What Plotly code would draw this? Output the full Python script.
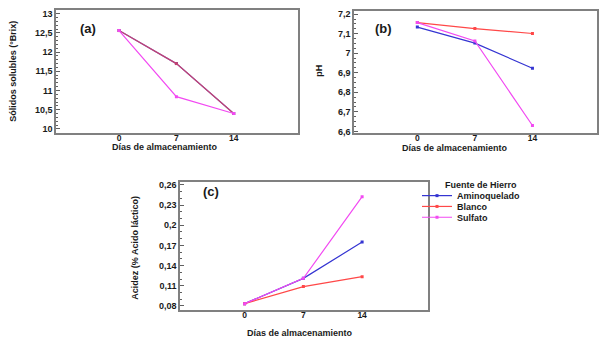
import plotly.graph_objects as go

dias = [0, 7, 14]
tick_vals = [0, 7, 14]
tick_text = ["0", "7", "14"]

series = ["Aminoquelado", "Blanco", "Sulfato"]
colors = {"Aminoquelado": "#3535d2", "Blanco": "#ff4848", "Sulfato": "#f24af2"}

solidos_amino = [12.56, 11.70, 10.40]
solidos_blanco = [12.56, 11.70, 10.40]
solidos_sulfato = [12.56, 10.84, 10.40]

ph_amino = [7.134, 7.052, 6.923]
ph_blanco = [7.157, 7.126, 7.101]
ph_sulfato = [7.157, 7.063, 6.630]

acidez_amino = [0.0834, 0.121, 0.175]
acidez_blanco = [0.0834, 0.1088, 0.1235]
acidez_sulfato = [0.0834, 0.121, 0.2425]

solidos_ticks = [10, 10.5, 11, 11.5, 12, 12.5, 13]
solidos_labels = ["10", "10,5", "11", "11,5", "12", "12,5", "13"]
ph_ticks = [6.6, 6.7, 6.8, 6.9, 7.0, 7.1, 7.2]
ph_labels = ["6,6", "6,7", "6,8", "6,9", "7", "7,1", "7,2"]
acidez_ticks = [0.08, 0.11, 0.14, 0.17, 0.2, 0.23, 0.26]
acidez_labels = ["0,08", "0,11", "0,14", "0,17", "0,2", "0,23", "0,26"]

W, H = 614, 350
FONT = "Liberation Sans, Arial, sans-serif"
TXT = "#1a1a1a"

def px_x(a, b):
    return [a / W, b / W]

def px_y(top, bottom):
    return [1 - bottom / H, 1 - top / H]

def bold(labels):
    return ["<b>" + t + "</b>" for t in labels]

fig = go.Figure()

panels = [
    ("x", "y", {"Aminoquelado": solidos_amino, "Blanco": solidos_blanco, "Sulfato": solidos_sulfato}),
    ("x2", "y2", {"Aminoquelado": ph_amino, "Blanco": ph_blanco, "Sulfato": ph_sulfato}),
    ("x3", "y3", {"Aminoquelado": acidez_amino, "Blanco": acidez_blanco, "Sulfato": acidez_sulfato}),
]
legend_ids = {"Aminoquelado": "legend", "Blanco": "legend2", "Sulfato": "legend3"}

for i, (xa, ya, data) in enumerate(panels):
    for s in series:
        op = 1.0
        if i == 0 and s == "Blanco":
            op = 0.7
        fig.add_trace(go.Scatter(
            x=dias, y=data[s], mode="lines+markers",
            line=dict(color=colors[s], width=1.2),
            marker=dict(color=colors[s], size=3, symbol="square"),
            opacity=op,
            name="<b>" + s + "</b>", legendgroup=s, showlegend=(i == 2),
            legend=legend_ids[s],
            xaxis=xa, yaxis=ya,
        ))

xrange_ = [-7.7, 21.85]
axis_line = dict(showline=True, linecolor="#808080", linewidth=1.5, mirror=True,
                 showgrid=False, zeroline=False)

def xaxis(domain, anchor):
    return dict(domain=domain, anchor=anchor, range=xrange_, tickmode="array",
                tickvals=tick_vals, ticktext=bold(tick_text), ticks="",
                ticklabelstandoff=-4,
                tickfont=dict(family=FONT, size=8.5, color=TXT), **axis_line)

def yaxis(domain, anchor, rng, tv, tt, minor_dtick):
    return dict(domain=domain, anchor=anchor, range=rng, tickmode="array",
                tickvals=tv, ticktext=bold(tt), ticks="inside", ticklen=4, tickwidth=1,
                tickcolor="#606060",
                minor=dict(ticks="inside", ticklen=2, dtick=minor_dtick, tickcolor="#606060", showgrid=False),
                tickfont=dict(family=FONT, size=9, color=TXT), **axis_line)

def leg(yc):
    return dict(x=417 / W, y=1 - yc / H, xanchor="left", yanchor="middle",
                font=dict(family=FONT, size=9, color=TXT),
                bgcolor="rgba(0,0,0,0)", borderwidth=0, itemwidth=30)

layout = dict(
    width=W, height=H,
    margin=dict(l=0, r=0, t=0, b=0),
    paper_bgcolor="white", plot_bgcolor="white",
    font=dict(family=FONT, color=TXT),
    xaxis=xaxis(px_x(56, 298), "y"),
    yaxis=yaxis(px_y(8, 133), "x", [9.9, 13.1], solidos_ticks, solidos_labels, 0.1),
    xaxis2=xaxis(px_x(354, 597), "y2"),
    yaxis2=yaxis(px_y(9, 133), "x2", [6.593, 7.217], ph_ticks, ph_labels, 0.025),
    xaxis3=xaxis(px_x(180, 428), "y3"),
    yaxis3=yaxis(px_y(183, 313), "x3", [0.0745, 0.2645], acidez_ticks, acidez_labels, 0.01),
    showlegend=True,
    legend=leg(197),
    legend2=leg(208),
    legend3=leg(219),
)
fig.update_layout(**layout)

def ann(text, x, y, size=9, angle=0, xanchor="center"):
    fig.add_annotation(text=text, x=x / W, y=1 - y / H, xref="paper", yref="paper",
                       showarrow=False, textangle=angle,
                       font=dict(family=FONT, size=size, color=TXT),
                       xanchor=xanchor, yanchor="middle")

ann("<b>Días de almacenamiento</b>", 165, 148)
ann("<b>Días de almacenamiento</b>", 455, 149)
ann("<b>Días de almacenamiento</b>", 300, 337)
ann("<b>Sólidos solubles (°Brix)</b>", 13, 71, angle=-90)
ann("<b>pH</b>", 319, 70, angle=-90)
ann("<b>Acidez (% Acido láctico)</b>", 135, 250, angle=-90)
ann("<b>(a)</b>", 88, 27, size=13)
ann("<b>(b)</b>", 384, 27, size=13)
ann("<b>(c)</b>", 211, 193, size=13)
ann("<b>Fuente de Hierro</b>", 443, 186, xanchor="left")

fig.write_html("out.html")
